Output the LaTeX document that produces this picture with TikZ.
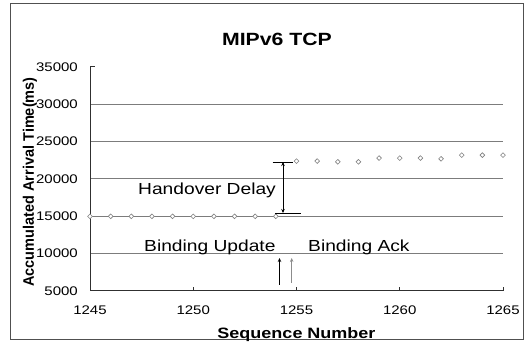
\documentclass[tikz,border=0pt]{standalone}
\usepackage{fontspec}
\setmainfont{Liberation Sans}[FakeStretch=1.2]
\newfontfamily\rotfont{Liberation Sans}
\usetikzlibrary{shapes.geometric,arrows.meta}
\definecolor{gridgray}{HTML}{7C7C7C}
\definecolor{axisdark}{HTML}{303030}
\definecolor{framegray}{HTML}{505050}
\definecolor{markgray}{HTML}{808080}
\definecolor{ackgray}{HTML}{8C8C8C}
\begin{document}
\begin{tikzpicture}[x=1pt,y=-1pt,
  gridline/.style={draw=gridgray,line width=1pt},
  axisline/.style={draw=axisdark,line width=1pt},
  datamark/.style={diamond,draw=markgray,fill=white,line width=0.6pt,
    minimum width=5pt,minimum height=5pt,inner sep=0pt},
  ticklabel/.style={font=\fontsize{12.5}{14}\selectfont,inner sep=0pt},
  annot/.style={font=\fontsize{16}{18}\selectfont,inner sep=0pt},
  annotline/.style={draw=black,line width=0.8pt},
  tip/.style={-{Stealth[length=4pt,width=3.5pt]}}
]
\useasboundingbox (0,0) rectangle (531,350);
\fill[white] (0,0) rectangle (531,350);
% outer frame of the chart
\draw[framegray,line width=1pt] (10.5,3.5) rectangle (523.5,340);

% title and axis titles
\node[anchor=base,inner sep=0pt,font=\fontsize{17.7}{20}\selectfont\bfseries] (title) at (277,46) {MIPv6 TCP};
\node[anchor=base,inner sep=0pt,font=\fontsize{15}{17}\selectfont\bfseries] (xtitle) at (296.5,338) {Sequence Number};
\node[anchor=base,rotate=90,inner sep=0pt] (ytitle) at (34,182)
  {\scalebox{1}[1.05]{\rotfont\fontsize{14.5}{16}\selectfont\bfseries Accumulated Arrival Time(ms)}};

% plot area: x = sequence number - 1245, y = (time - 5000)/1000
\begin{scope}[shift={(90,291)},x=20.65pt,y=7.4667pt]
  \foreach \v in {5,10,15,20,25}
    \draw[gridline] (0,\v) -- (20,\v);
  \draw[axisline] (0.24,30) -- (0,30) -- (0,0) -- (20,0);
  \foreach \n in {5,10,15,20}
    \draw[axisline] (\n,0) -- (\n,0.54);
  \foreach \v/\lab in {0/5000,5/10000,10/15000,15/20000,20/25000,25/30000,30/35000}
    \node[ticklabel,anchor=east] (yl\lab) at ([xshift=-12pt]0,\v) {\lab};
  \foreach \n/\lab in {0/1245,5/1250,10/1255,15/1260,20/1265}
    \node[ticklabel] (xl\lab) at ([yshift=-19.5pt]\n,0) {\lab};
  \foreach \n/\v in {0/10,1/10,2/10,3/10,4/10,5/10,6/10,7/10,8/10,9/10,
                     10/17.4,11/17.4,12/17.3,13/17.3,
                     14/17.8,15/17.8,16/17.8,17/17.7,
                     18/18.2,19/18.2,20/18.2}
    \node[datamark] (p\n) at (\n,\v) {};
\end{scope}

% handover delay bracket
\coordinate (hdT) at (283,162);
\coordinate (hdB) at (283,213);
\coordinate (hdTl) at (272.5,162);
\coordinate (hdTr) at (292.5,162);
\coordinate (hdBl) at (275,213);
\coordinate (hdBr) at (301,213);
\draw[annotline] (hdTl) -- (hdTr);
\draw[annotline] (hdBl) -- (hdBr);
\draw[annotline,{Stealth[length=4pt,width=3.5pt]}-{Stealth[length=4pt,width=3.5pt]}] (hdT) -- (hdB);
\node[annot,anchor=base west] (hd) at (138,195) {Handover Delay};

% binding update / binding ack markers
\node[annot,anchor=base west] (bu) at (144,252) {Binding Update};
\node[annot,anchor=base west] (ba) at (308,252) {Binding Ack};
\coordinate (buS) at (279.5,285);
\coordinate (buE) at (279.5,258);
\coordinate (baS) at (291.7,283);
\coordinate (baE) at (291.7,258);
\draw[annotline,tip] (buS) -- (buE);
\draw[annotline,draw=ackgray,tip] (baS) -- (baE);
\end{tikzpicture}
\end{document}
